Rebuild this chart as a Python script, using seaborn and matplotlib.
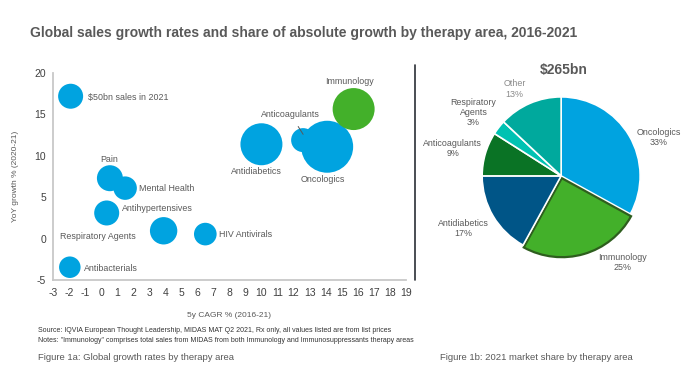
import matplotlib
matplotlib.use("Agg")
import matplotlib.pyplot as plt
import seaborn as sns
import pandas as pd
from matplotlib.lines import Line2D

# 1. DATA
areas = ['$50bn sales in 2021', 'Antibacterials', 'Pain', 'Mental Health', 'Antihypertensives',
         'Respiratory Agents', 'HIV Antivirals', 'Antidiabetics', 'Anticoagulants',
         'Oncologics', 'Immunology']
cagr = [-1.9, -1.95, 0.55, 1.5, 0.35, 3.9, 6.5, 10.0, 12.6, 14.1, 15.75]
yoy = [17.2, -3.45, 7.3, 6.1, 3.1, 0.95, 0.55, 11.4, 11.9, 11.1, 15.65]
sales_bn = [50, 37, 54, 44, 50, 60, 41, 141, 46, 216, 141]
group = ['other'] * 10 + ['immuno']

pie_labels = ['Oncologics', 'Immunology', 'Antidiabetics', 'Anticoagulants',
              'Respiratory\nAgents', 'Other']
pie_share = [33, 25, 17, 9, 3, 13]
pie_total = '$265bn'

# label text positions (data coords) - layout only
scatter_text = {
    '$50bn sales in 2021': (-0.8, 17.1, 'left'),
    'Antibacterials': (-1.05, -3.55, 'left'),
    'Pain': (0.5, 9.6, 'center'),
    'Mental Health': (2.35, 6.1, 'left'),
    'Antihypertensives': (1.3, 3.7, 'left'),
    'Respiratory Agents': (-2.55, 0.2, 'left'),
    'HIV Antivirals': (7.35, 0.55, 'left'),
    'Antidiabetics': (9.7, 8.05, 'center'),
    'Oncologics': (13.8, 7.2, 'center'),
    'Immunology': (15.5, 19.0, 'center'),
}
pie_text_pos = [(1.24, 0.49), (0.78, -1.10), (-1.24, -0.66), (-1.37, 0.35),
                (-1.11, 0.80), (-0.59, 1.10)]

BLUE = '#00A3E0'
GREEN = '#43B02A'
GREY = '#595959'

sns.set_style('white')
plt.rcParams['font.family'] = ['Liberation Sans', 'DejaVu Sans']
plt.rcParams['axes.unicode_minus'] = False

fig = plt.figure(figsize=(6.81, 3.68), dpi=100)

# 2. BUBBLE CHART
df = pd.DataFrame({'area': areas, 'cagr': cagr, 'yoy': yoy, 'sales': sales_bn, 'group': group})
ax = fig.add_axes([0.0778, 0.239, 0.518, 0.5625])
sns.scatterplot(data=df, x='cagr', y='yoy', size='sales', hue='group',
                palette={'other': BLUE, 'immuno': GREEN},
                sizes=(0, 1620), size_norm=(0, 250), legend=False,
                linewidth=0, alpha=1, ax=ax, clip_on=False, zorder=3)

for name, (tx, ty, ha) in scatter_text.items():
    ax.text(tx, ty, name, ha=ha, va='center', fontsize=6.4, color=GREY)
ax.annotate('Anticoagulants', xy=(12.6, 12.6), xytext=(11.8, 15.05),
            ha='center', va='center', fontsize=6.4, color=GREY,
            arrowprops=dict(arrowstyle='-', color=GREY, lw=0.7, shrinkA=4, shrinkB=0))

ax.set_xlim(-3, 19)
ax.set_ylim(-5, 20)
ax.set_xticks(range(-3, 20))
ax.set_yticks(range(-5, 21, 5))
ax.tick_params(axis='both', labelsize=7.5, colors='#404040', length=0)
ax.tick_params(axis='x', pad=6)
ax.tick_params(axis='y', pad=5)
sns.despine(ax=ax)
for s in ['left', 'bottom']:
    ax.spines[s].set_color('#C8C8C8')
    ax.spines[s].set_linewidth(1.3)
ax.set_xlabel('5y CAGR % (2016-21)', fontsize=6, color=GREY, labelpad=10)
ax.set_ylabel('YoY growth % (2020-21)', fontsize=6, color=GREY, labelpad=11)

# separator
fig.add_artist(Line2D([415 / 681, 415 / 681], [1 - 65 / 368, 1 - 280 / 368],
                      color='#2B2F36', lw=1.2))

# 3. PIE CHART
pax = fig.add_axes([0.650, 0.200, 0.348, 0.644])
pie_colors = [BLUE, GREEN, '#005587', '#0A7325', '#00C2B2', '#00A99D']
wedges, _ = pax.pie(pie_share, colors=pie_colors, startangle=90, counterclock=False,
                    explode=[0, 0.03, 0, 0, 0, 0],
                    wedgeprops=dict(edgecolor='white', linewidth=1.2))
wedges[1].set_edgecolor('#2E5E1E')
wedges[1].set_linewidth(1.6)
pax.set_xlim(-1.5, 1.5)
pax.set_ylim(-1.5, 1.5)
pax.set_aspect('equal')
for lab, val, (tx, ty) in zip(pie_labels, pie_share, pie_text_pos):
    col = '#8A8A8A' if lab == 'Other' else GREY
    pax.text(tx, ty, f'{lab}\n{val}%', ha='center', va='center', fontsize=6.4,
             color=col, linespacing=1.15)
pax.text(0.03, 1.34, pie_total, ha='center', va='center', fontsize=10,
         fontweight='bold', color=GREY)

# 4. TEXTS
fig.text(30 / 681, 1 - 33 / 368, 'Global sales growth rates and share of absolute growth by therapy area, 2016-2021',
         fontsize=10, fontweight='bold', color=GREY, va='center')
fig.text(38 / 681, 1 - 330 / 368,
         'Source: IQVIA European Thought Leadership, MIDAS MAT Q2 2021, Rx only, all values listed are from list prices',
         fontsize=5, color='#333333', va='center')
fig.text(38 / 681, 1 - 341 / 368,
         'Notes: "Immunology" comprises total sales from MIDAS from both Immunology and Immunosuppressants therapy areas',
         fontsize=5, color='#333333', va='center')
fig.text(38 / 681, 1 - 358 / 368, 'Figure 1a: Global growth rates by therapy area',
         fontsize=6.8, color=GREY, va='center')
fig.text(440 / 681, 1 - 358 / 368, 'Figure 1b: 2021 market share by therapy area',
         fontsize=6.8, color=GREY, va='center')

fig.savefig('out.png', dpi=100)
